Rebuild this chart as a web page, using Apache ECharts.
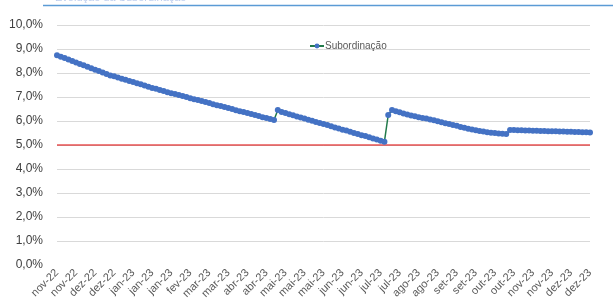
<!DOCTYPE html>
<html>
<head>
<meta charset="utf-8">
<script src="https://cdn.jsdelivr.net/npm/echarts@6/dist/echarts.min.js"></script>
<style>
  html, body { margin: 0; padding: 0; background: #fff; }
  #main { width: 613px; height: 305px; }
</style>
</head>
<body>
<div id="main"></div>
<script>
// one label every 5 points
const tickLabels = ['nov-22','nov-22','dez-22','dez-22','jan-23','jan-23','jan-23','fev-23','mar-23','mar-23',
  'abr-23','abr-23','mai-23','mai-23','mai-23','jun-23','jun-23','jul-23','jul-23','ago-23',
  'ago-23','set-23','set-23','out-23','out-23','nov-23','nov-23','dez-23','dez-23'];

const subordinacao = [
  8.74, 8.68, 8.62, 8.56, 8.50, 8.44, 8.38, 8.32, 8.26, 8.20,
  8.14, 8.08, 8.02, 7.96, 7.90, 7.86, 7.81, 7.76, 7.72, 7.67,
  7.62, 7.57, 7.53, 7.48, 7.43, 7.38, 7.34, 7.29, 7.25, 7.20,
  7.16, 7.12, 7.08, 7.04, 7.00, 6.95, 6.91, 6.87, 6.83, 6.79,
  6.75, 6.70, 6.66, 6.62, 6.58, 6.54, 6.50, 6.45, 6.41, 6.37,
  6.33, 6.29, 6.25, 6.21, 6.16, 6.12, 6.08, 6.04, 6.46, 6.37,
  6.33, 6.28, 6.24, 6.19, 6.15, 6.10, 6.05, 6.01, 5.96, 5.92,
  5.87, 5.83, 5.78, 5.73, 5.69, 5.64, 5.60, 5.55, 5.50, 5.46,
  5.41, 5.37, 5.32, 5.27, 5.23, 5.18, 5.14, 6.25, 6.46, 6.41,
  6.36, 6.31, 6.27, 6.23, 6.20, 6.16, 6.13, 6.10, 6.06, 6.03,
  5.99, 5.95, 5.91, 5.87, 5.83, 5.80, 5.75, 5.72, 5.68, 5.65,
  5.61, 5.58, 5.56, 5.53, 5.51, 5.50, 5.48, 5.47, 5.46, 5.62,
  5.62, 5.61, 5.61, 5.60, 5.60, 5.59, 5.59, 5.58, 5.58, 5.57,
  5.57, 5.57, 5.56, 5.56, 5.55, 5.55, 5.54, 5.54, 5.53, 5.53,
  5.52
];

// limite minimo de subordinacao
const limite = 5;

const categories = subordinacao.map((v, i) => String(i));
const limiteData = subordinacao.map(() => limite);

const chart = echarts.init(document.getElementById('main'));

const gridColors = ['rgba(0,0,0,0)'];
for (let i = 0; i < 10; i++) gridColors.push('#d9d9d9');

const option = {
  animation: false,
  textStyle: { fontFamily: 'Liberation Sans' },
  graphic: [
    {
      type: 'line',
      shape: { x1: 43, y1: 5.5, x2: 613, y2: 5.5 },
      style: { stroke: '#5b9bd5', lineWidth: 1.5 }
    },
    {
      type: 'text',
      left: 55,
      top: -8,
      style: { text: 'Evolução da Subordinação', fill: '#bccdee', font: '11px "Liberation Sans"' }
    }
  ],
  legend: {
    left: 304,
    top: 36,
    itemWidth: 14,
    itemHeight: 6,
    textStyle: { color: '#595959', fontSize: 10, padding: [0, 0, 0, -4] },
    data: ['Subordinação']
  },
  grid: { left: 57, right: 23, top: 25, bottom: 40, containLabel: false },
  xAxis: {
    type: 'category',
    boundaryGap: false,
    data: categories,
    axisLine: { show: false },
    axisTick: { show: false },
    axisLabel: {
      interval: 4,
      rotate: 45,
      margin: 6,
      fontSize: 11,
      color: '#595959',
      formatter: function (v, idx) {
        return idx % 5 === 0 ? tickLabels[idx / 5] : '';
      }
    }
  },
  yAxis: {
    type: 'value',
    min: 0,
    max: 10,
    interval: 1,
    axisLine: { show: false },
    axisTick: { show: false },
    axisLabel: {
      fontSize: 12,
      color: '#404040',
      margin: 14,
      formatter: v => v.toFixed(1).replace('.', ',') + '%'
    },
    splitLine: { lineStyle: { color: gridColors, width: 1 } }
  },
  series: [
    {
      name: 'Limite',
      type: 'line',
      data: limiteData,
      symbol: 'none',
      silent: true,
      lineStyle: { color: '#e00000', width: 1.2 },
      z: 2
    },
    {
      name: 'Subordinação',
      type: 'line',
      data: subordinacao,
      showAllSymbol: true,
      symbol: 'circle',
      symbolSize: 6,
      itemStyle: { color: '#4472c4' },
      lineStyle: { color: '#217a4a', width: 1.5 },
      z: 3
    }
  ]
};

chart.setOption(option);
</script>
</body>
</html>
